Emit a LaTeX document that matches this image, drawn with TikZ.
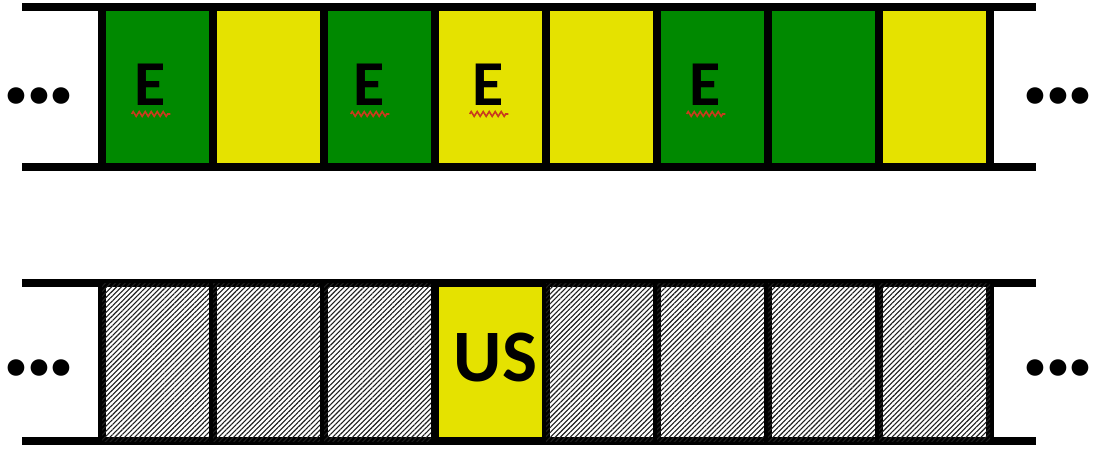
\documentclass[tikz,border=0pt]{standalone}
\usepackage{fontspec}
\setmainfont{Carlito}
\usetikzlibrary{patterns.meta,decorations.pathmorphing}
\definecolor{cgreen}{RGB}{0,137,0}
\definecolor{cyellow}{RGB}{229,226,0}
\definecolor{squig}{RGB}{200,60,30}
\definecolor{hatchc}{RGB}{30,30,30}
\newcommand{\bigdots}{.\kern-7pt.\kern-7pt.}
\tikzset{
  rail/.style={line width=8.5pt},
  cell/.style={draw=black, line width=8.5pt, minimum width=111pt, inner sep=0pt, anchor=center},
  topcell/.style={cell, minimum height=160pt},
  botcell/.style={cell, minimum height=158pt},
  gcell/.style={topcell, fill=cgreen},
  ycell/.style={topcell, fill=cyellow},
  hcell/.style={botcell, fill=white, postaction={pattern={Lines[angle=45,distance=3.5pt,line width=1.1pt]}, pattern color=hatchc}},
  uscell/.style={botcell, fill=cyellow},
  elabel/.style={font=\bfseries\fontsize{64}{64}\selectfont, inner sep=0pt},
  uslabel/.style={font=\bfseries\fontsize{74}{74}\selectfont, inner sep=0pt},
  dots/.style={font=\bfseries\fontsize{112}{112}\selectfont, inner sep=0pt},
  squiggle/.style={draw=squig, line width=1.6pt, decorate, decoration={zigzag, amplitude=2.4pt, segment length=6pt}}
}
\begin{document}
\begin{tikzpicture}[x=1pt,y=-1pt]
\useasboundingbox (0,0) rectangle (1096,453);
% top row
\coordinate (tl1) at (22,7); \coordinate (tr1) at (1036,7);
\coordinate (tl2) at (22,167); \coordinate (tr2) at (1036,167);
\draw[rail] (tl1) -- (tr1);
\draw[rail] (tl2) -- (tr2);
\node[gcell] (t1) at (157.5,87) {};
\node[ycell] (t2) at (268.5,87) {};
\node[gcell] (t3) at (379.5,87) {};
\node[ycell] (t4) at (490.5,87) {};
\node[ycell] (t5) at (601.5,87) {};
\node[gcell] (t6) at (712.5,87) {};
\node[gcell] (t7) at (823.5,87) {};
\node[ycell] (t8) at (934.5,87) {};
\node[elabel] (e1) at ([xshift=-7pt,yshift=2pt]t1.center) {E};
\node[elabel] (e3) at ([xshift=-10pt,yshift=2pt]t3.center) {E};
\node[elabel] (e4) at ([xshift=-2pt,yshift=2pt]t4.center) {E};
\node[elabel] (e6) at ([xshift=-7pt,yshift=2pt]t6.center) {E};
\foreach \e in {e1,e3,e4,e6}{
  \draw[squiggle] ([xshift=-3pt,yshift=-8pt]\e.south west) -- ([xshift=4pt,yshift=-8pt]\e.south east);
}
\node[dots] (dl1) at (39,96) {\bigdots};
\node[dots] (dr1) at (1058,96) {\bigdots};
% bottom row
\coordinate (bl1) at (22,283); \coordinate (br1) at (1036,283);
\coordinate (bl2) at (22,441); \coordinate (br2) at (1036,441);
\draw[rail] (bl1) -- (br1);
\draw[rail] (bl2) -- (br2);
\node[hcell] (b1) at (157.5,362) {};
\node[hcell] (b2) at (268.5,362) {};
\node[hcell] (b3) at (379.5,362) {};
\node[uscell] (b4) at (490.5,362) {};
\node[hcell] (b5) at (601.5,362) {};
\node[hcell] (b6) at (712.5,362) {};
\node[hcell] (b7) at (823.5,362) {};
\node[hcell] (b8) at (934.5,362) {};
\node[uslabel] (us) at ([xshift=5pt,yshift=4pt]b4.center) {US};
\node[dots] (dl2) at (39,368) {\bigdots};
\node[dots] (dr2) at (1058,368) {\bigdots};
\end{tikzpicture}
\end{document}
